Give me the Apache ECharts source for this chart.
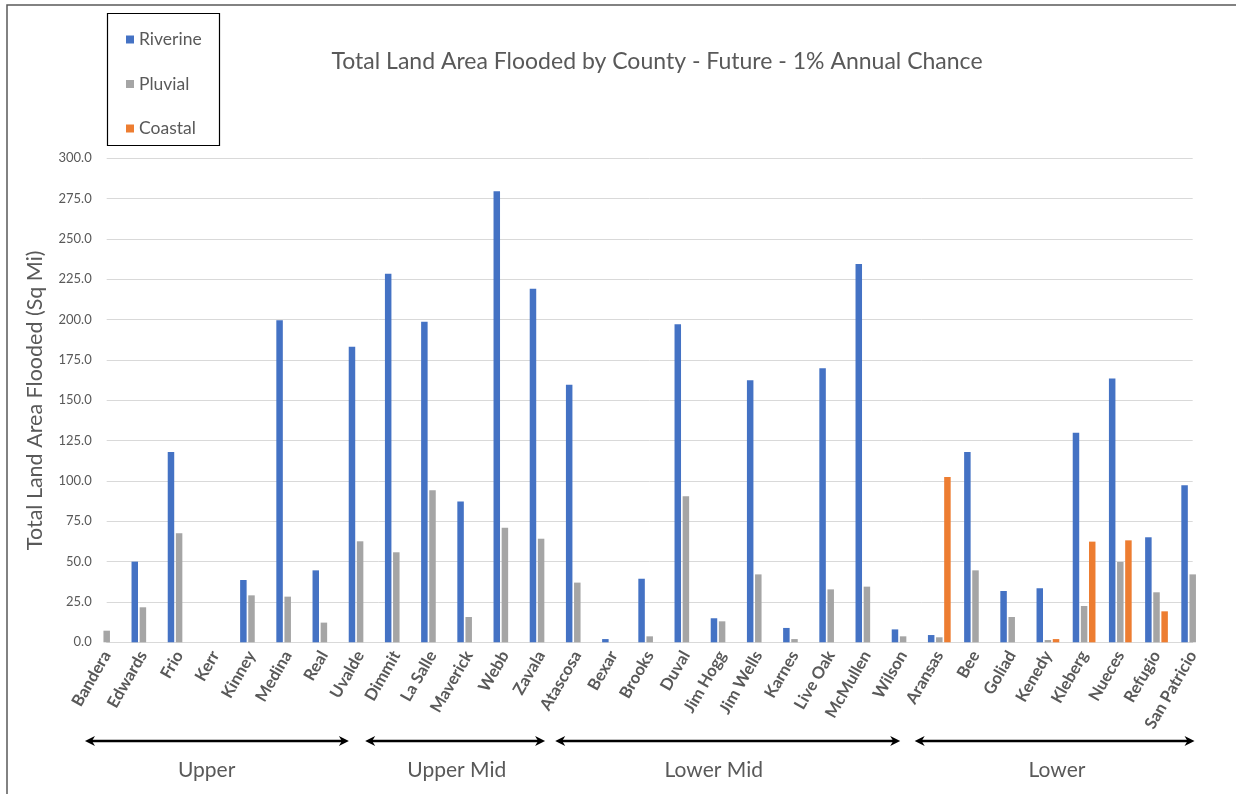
<!DOCTYPE html>
<html>
<head>
<meta charset="utf-8">
<script src="https://cdn.jsdelivr.net/npm/echarts@6/dist/echarts.min.js"></script>
<style>
  html, body { margin: 0; padding: 0; background: #ffffff; }
  #chart { width: 1236px; height: 794px; }
</style>
</head>
<body>
<div id="chart"></div>
<script>
// Counties along the x axis, grouped by river basin region
const counties = [
  'Bandera', 'Edwards', 'Frio', 'Kerr', 'Kinney', 'Medina', 'Real', 'Uvalde',
  'Dimmit', 'La Salle', 'Maverick', 'Webb', 'Zavala',
  'Atascosa', 'Bexar', 'Brooks', 'Duval', 'Jim Hogg', 'Jim Wells', 'Karnes',
  'Live Oak', 'McMullen', 'Wilson',
  'Aransas', 'Bee', 'Goliad', 'Kenedy', 'Kleberg', 'Nueces', 'Refugio', 'San Patricio'
];

// Flooded land area (sq mi) per county
const riverine = [
  0, 50.0, 118.0, 0, 38.6, 199.6, 44.6, 183.2,
  228.5, 198.7, 87.2, 279.5, 219.2,
  159.7, 2.0, 39.4, 197.1, 14.9, 162.4, 8.9, 169.8, 234.5, 8.0,
  4.5, 118.0, 31.8, 33.5, 129.9, 163.5, 65.1, 97.3
];
const pluvial = [
  7.2, 21.7, 67.6, 0, 29.1, 28.3, 12.2, 62.6,
  55.8, 94.2, 15.7, 71.0, 64.2,
  37.0, 0, 3.7, 90.6, 13.0, 42.1, 2.0, 32.8, 34.5, 3.7,
  3.1, 44.6, 15.7, 1.4, 22.5, 49.8, 31.0, 42.1
];
const coastal = [
  0, 0, 0, 0, 0, 0, 0, 0,
  0, 0, 0, 0, 0,
  0, 0, 0, 0, 0, 0, 0, 0, 0, 0,
  102.5, 0, 0, 2.0, 62.4, 63.2, 19.2, 0
];

// Region names shown under the axis
const regionNames = ['Upper', 'Upper Mid', 'Lower Mid', 'Lower'];

const seriesNames = ['Riverine', 'Pluvial', 'Coastal'];
const seriesColors = ['#4472C4', '#A5A5A5', '#ED7D31'];

const yTicks = { min: 0, max: 300, interval: 25 };

const FONT = 'Lato';
const TEXT = '#595959';

const chart = echarts.init(document.getElementById('chart'), null, { renderer: 'canvas' });

function barSeries(name, data, color) {
  return {
    name: name,
    type: 'bar',
    data: data,
    barWidth: 6.5,
    barGap: '25%',
    itemStyle: { color: color },
    clip: true
  };
}

chart.setOption({
  animation: false,
  backgroundColor: '#ffffff',
  textStyle: { fontFamily: FONT },
  title: {
    text: 'Total Land Area Flooded by County - Future - 1% Annual Chance',
    left: 652,
    textAlign: 'center',
    top: 45,
    textStyle: { fontFamily: FONT, fontSize: 23, fontWeight: 'normal', color: TEXT }
  },
  legend: {
    orient: 'vertical',
    left: 121,
    top: 24,
    itemGap: 23.5,
    itemWidth: 8,
    itemHeight: 8,
    icon: 'rect',
    data: seriesNames,
    textStyle: { fontFamily: FONT, fontSize: 17.5, color: TEXT, lineHeight: 21 }
  },
  grid: { left: 106.7, right: 43.3, top: 158.3, bottom: 151.7, containLabel: false },
  xAxis: {
    type: 'category',
    data: counties,
    boundaryGap: false,
    axisLine: { show: true, lineStyle: { color: '#d9d9d9', width: 1 } },
    axisTick: { show: false },
    axisLabel: {
      interval: 0,
      rotate: 60,
      margin: 10,
      fontFamily: FONT,
      fontSize: 16.5,
      fontWeight: 'bold',
      color: TEXT
    },
    splitLine: { show: false }
  },
  yAxis: {
    type: 'value',
    min: yTicks.min,
    max: yTicks.max,
    interval: yTicks.interval,
    name: 'Total Land Area Flooded (Sq Mi)',
    nameLocation: 'middle',
    nameRotate: 90,
    nameGap: 61,
    nameTextStyle: { fontFamily: FONT, fontSize: 21.5, color: TEXT },
    axisLine: { show: false },
    axisTick: { show: false },
    axisLabel: {
      margin: 15,
      fontFamily: FONT,
      fontSize: 13,
      color: TEXT,
      formatter: v => v.toFixed(1)
    },
    splitLine: { lineStyle: { color: '#d9d9d9', width: 1 } }
  },
  series: [
    barSeries(seriesNames[0], riverine, seriesColors[0]),
    barSeries(seriesNames[1], pluvial, seriesColors[1]),
    barSeries(seriesNames[2], coastal, seriesColors[2])
  ]
});

// Region brackets: span and label centre expressed in category-index units
const regionSpans = [
  { from: -0.6, to: 6.69, mid: 2.76 },
  { from: 7.14, to: 12.11, mid: 9.67 },
  { from: 12.39, to: 21.92, mid: 16.77 },
  { from: 22.32, to: 30.05, mid: 26.25 }
];

const x0 = chart.convertToPixel({ xAxisIndex: 0 }, counties[0]);
const step = chart.convertToPixel({ xAxisIndex: 0 }, counties[1]) - x0;
const px = i => x0 + step * i;

const arrowY = 741;
const head = 10, half = 5;
const graphics = [
  // frame around the whole chart
  {
    type: 'rect',
    shape: { x: 7, y: 5, width: 1250, height: 820 },
    style: { fill: null, stroke: '#595959', lineWidth: 1.5 },
    silent: true
  },
  // legend frame
  {
    type: 'rect',
    shape: { x: 107.5, y: 13.5, width: 112, height: 132 },
    style: { fill: null, stroke: '#000000', lineWidth: 1.2 },
    silent: true
  }
];

regionSpans.forEach((r, k) => {
  const a = px(r.from), b = px(r.to);
  graphics.push({
    type: 'line',
    shape: { x1: a + head * 0.6, y1: arrowY, x2: b - head * 0.6, y2: arrowY },
    style: { stroke: '#000000', lineWidth: 2.5 },
    silent: true
  });
  graphics.push({
    type: 'polygon',
    shape: { points: [[a, arrowY], [a + head, arrowY - half], [a + head * 0.7, arrowY], [a + head, arrowY + half]] },
    style: { fill: '#000000' },
    silent: true
  });
  graphics.push({
    type: 'polygon',
    shape: { points: [[b, arrowY], [b - head, arrowY - half], [b - head * 0.7, arrowY], [b - head, arrowY + half]] },
    style: { fill: '#000000' },
    silent: true
  });
  graphics.push({
    type: 'text',
    style: {
      x: px(r.mid), y: 770,
      text: regionNames[k],
      align: 'center', verticalAlign: 'middle',
      fontFamily: FONT, fontSize: 21, fill: '#595959'
    },
    silent: true
  });
});

chart.setOption({ graphic: graphics });
</script>
</body>
</html>
